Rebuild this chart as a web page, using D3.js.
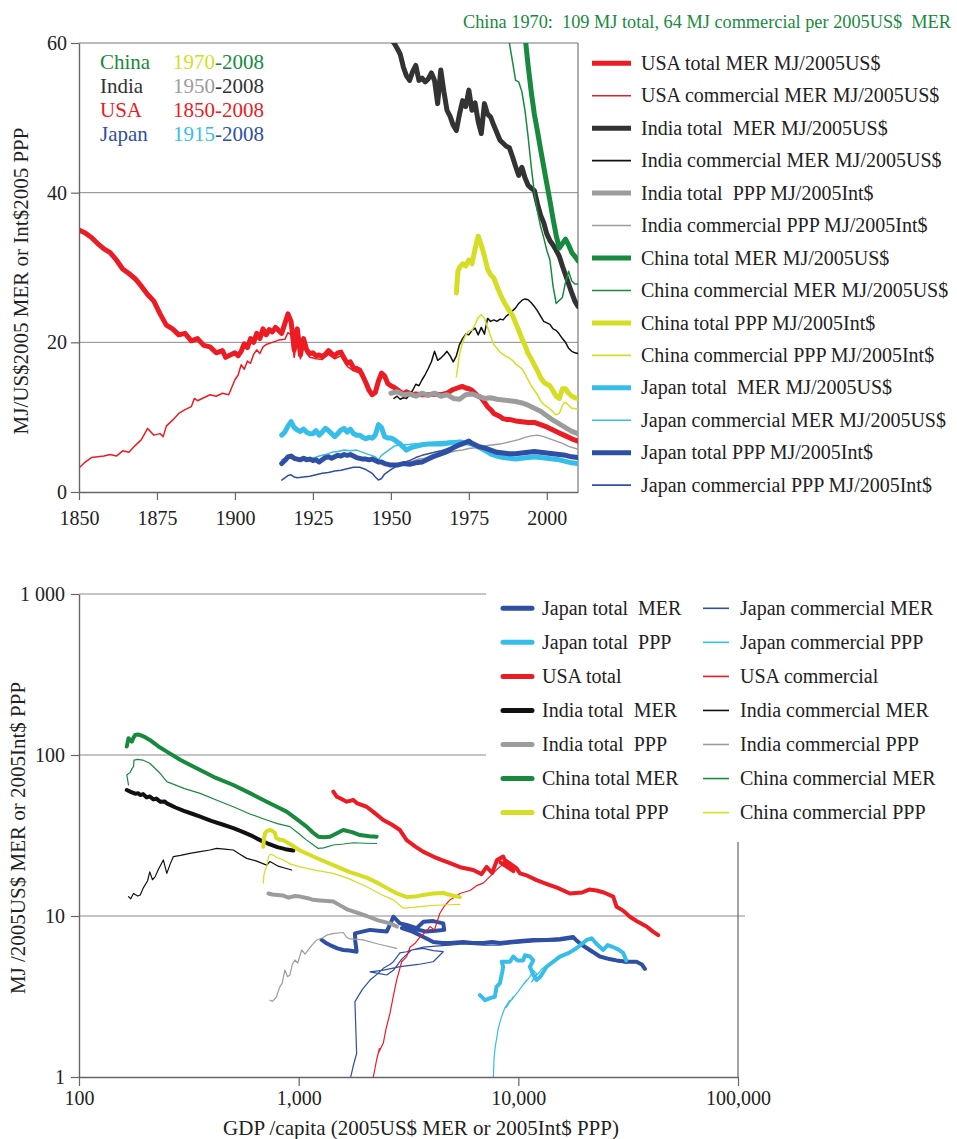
<!DOCTYPE html>
<html><head><meta charset="utf-8">
<script src="https://d3js.org/d3.v7.min.js"></script>
<style>
html,body{margin:0;padding:0;background:#fff;}
svg{display:block;}
svg text{font-family:"Liberation Serif","Times New Roman",serif !important;}
</style></head><body>
<svg id="chart" width="957" height="1139"></svg>
<script>
// ================= DATA : top panel  [year, MJ per $] =================
const usaTotal = [[1850,35.0],[1852,34.6],[1854,34.0],[1856,33.2],[1858,32.5],[1860,32.0],[1862,31.0],[1864,29.8],[1866,29.2],[1868,28.5],[1870,27.5],[1872,26.4],[1874,25.5],[1876,23.8],[1878,22.3],[1880,21.8],[1882,21.0],[1884,21.2],[1886,20.2],[1888,20.5],[1890,19.6],[1892,19.4],[1894,18.6],[1896,18.9],[1897,18.0],[1899,18.4],[1900,18.6],[1901,18.2],[1902,18.8],[1903,19.8],[1904,19.3],[1905,20.5],[1906,20.0],[1907,21.2],[1908,20.5],[1909,21.8],[1910,21.0],[1911,21.7],[1912,21.4],[1913,22.0],[1914,21.6],[1915,21.2],[1916,22.5],[1917,23.8],[1918,22.8],[1919,19.0],[1920,21.8],[1921,18.3],[1922,20.5],[1923,19.0],[1924,18.5],[1925,18.6],[1926,18.2],[1927,18.3],[1928,18.1],[1929,18.4],[1930,18.9],[1931,18.5],[1932,18.2],[1933,18.6],[1934,18.7],[1935,17.9],[1936,17.2],[1937,17.4],[1938,16.6],[1939,16.5],[1940,16.3],[1941,15.5],[1942,14.6],[1943,13.6],[1944,13.0],[1945,13.3],[1946,14.8],[1947,15.9],[1948,15.5],[1949,14.5],[1950,14.2],[1951,14.0],[1952,13.7],[1953,13.4],[1954,13.1],[1955,13.4],[1956,13.2],[1957,13.0],[1958,13.1],[1960,13.0],[1962,13.0],[1964,13.1],[1966,13.0],[1968,13.2],[1970,13.7],[1972,14.0],[1973,14.1],[1974,13.9],[1975,13.8],[1976,13.6],[1977,13.2],[1978,12.8],[1979,12.6],[1980,12.0],[1981,11.4],[1982,11.0],[1983,10.5],[1984,10.3],[1985,10.1],[1986,9.8],[1987,9.7],[1988,9.7],[1990,9.5],[1992,9.4],[1994,9.3],[1996,9.3],[1998,9.0],[2000,8.7],[2002,8.3],[2004,7.9],[2006,7.5],[2008,7.1],[2010,6.8]];
const usaComm = [[1850,3.2],[1852,4.0],[1854,4.6],[1856,4.7],[1858,4.8],[1860,5.0],[1862,4.8],[1864,5.5],[1866,5.3],[1868,6.2],[1870,7.0],[1872,8.5],[1874,7.6],[1876,7.8],[1877,7.4],[1878,8.8],[1880,9.6],[1882,10.5],[1884,11.0],[1886,11.4],[1887,12.5],[1888,12.2],[1890,12.6],[1892,13.0],[1894,12.8],[1896,13.2],[1898,13.0],[1899,14.0],[1900,15.0],[1901,15.6],[1902,17.0],[1903,16.4],[1904,17.5],[1905,17.2],[1906,18.4],[1907,19.0],[1908,18.5],[1909,19.4],[1910,19.7],[1912,20.0],[1914,20.3],[1916,20.4],[1917,21.3],[1918,21.0],[1919,18.0],[1920,20.8],[1921,17.8],[1922,19.8],[1923,18.5],[1924,18.0],[1926,17.8],[1928,17.7],[1930,18.4],[1932,17.8],[1934,18.2],[1936,16.8],[1938,16.2],[1940,15.9],[1942,14.3],[1944,12.8],[1946,14.5],[1947,15.6],[1948,15.2],[1950,14.0],[1952,13.6],[1955,13.3],[1958,13.0],[1960,12.9],[1965,12.9],[1970,13.6],[1973,14.0],[1975,13.7],[1978,12.7],[1980,11.9],[1983,10.4],[1986,9.7],[1990,9.4],[1995,9.2],[2000,8.6],[2005,7.6],[2010,6.7]];
const indiaTotalMER = [[1950,60.5],[1951,60.0],[1952,59.3],[1953,58.5],[1954,56.8],[1955,55.6],[1956,55.0],[1957,56.2],[1958,57.0],[1959,55.0],[1960,55.3],[1961,54.8],[1962,55.2],[1963,56.0],[1964,55.0],[1965,51.9],[1966,56.4],[1967,53.5],[1968,51.0],[1969,50.2],[1970,49.0],[1971,48.3],[1972,50.5],[1973,52.3],[1974,51.5],[1975,53.7],[1976,51.0],[1977,52.0],[1978,49.5],[1979,47.9],[1980,51.9],[1981,50.5],[1982,50.1],[1983,49.0],[1984,48.0],[1985,47.0],[1986,46.6],[1987,46.2],[1988,46.0],[1989,44.8],[1990,43.5],[1991,42.3],[1992,43.4],[1993,42.0],[1994,41.0],[1995,40.6],[1996,40.3],[1997,38.5],[1998,37.0],[1999,36.0],[2000,34.5],[2001,33.6],[2002,33.0],[2003,32.3],[2004,31.5],[2005,30.2],[2006,29.0],[2007,27.8],[2008,26.6],[2009,25.5],[2010,24.8]];
const indiaCommMER = [[1951,12.5],[1952,12.8],[1953,12.4],[1954,12.6],[1955,12.5],[1956,13.0],[1957,13.6],[1958,14.4],[1959,14.2],[1960,15.0],[1961,15.7],[1962,16.5],[1963,17.4],[1964,18.8],[1965,17.6],[1966,17.9],[1967,18.3],[1968,18.8],[1969,18.2],[1970,17.4],[1971,18.2],[1972,19.7],[1973,20.5],[1974,21.1],[1975,21.0],[1976,21.6],[1977,21.9],[1978,21.0],[1979,22.0],[1980,21.1],[1981,23.2],[1982,22.8],[1983,23.0],[1984,22.8],[1985,23.1],[1986,23.0],[1987,23.5],[1988,23.8],[1989,24.2],[1990,24.6],[1991,25.2],[1992,25.6],[1993,25.8],[1994,25.7],[1995,25.3],[1996,24.8],[1997,24.2],[1998,23.5],[1999,22.8],[2000,22.6],[2001,22.4],[2002,21.8],[2003,21.6],[2004,21.1],[2005,20.5],[2006,20.0],[2007,19.2],[2008,18.8],[2009,18.6],[2010,18.5]];
const indiaTotalPPP = [[1950,13.2],[1952,13.4],[1954,13.0],[1956,13.1],[1958,12.8],[1960,13.2],[1962,12.9],[1964,13.2],[1966,12.8],[1968,13.0],[1970,12.5],[1972,12.4],[1974,13.0],[1976,13.1],[1978,12.8],[1980,12.5],[1982,12.6],[1984,12.4],[1986,12.3],[1988,12.2],[1990,12.1],[1992,11.9],[1994,11.6],[1996,11.2],[1998,10.8],[2000,10.2],[2002,9.6],[2004,9.1],[2006,8.6],[2008,8.1],[2010,7.8]];
const indiaCommPPP = [[1951,3.6],[1953,3.8],[1955,3.9],[1957,4.1],[1959,4.4],[1961,4.5],[1963,4.9],[1965,5.0],[1967,5.2],[1969,5.3],[1971,5.5],[1973,5.6],[1975,5.8],[1977,5.9],[1979,6.0],[1981,6.2],[1983,6.3],[1985,6.4],[1987,6.6],[1989,6.8],[1991,7.0],[1993,7.3],[1995,7.5],[1997,7.6],[1999,7.4],[2001,7.1],[2003,6.8],[2005,6.5],[2007,6.1],[2010,5.7]];
const chinaTotalMER = [[1970,109],[1972,118],[1974,125],[1976,128],[1978,120],[1980,110],[1982,100],[1984,92],[1986,84],[1988,77],[1990,70],[1992,64],[1993,61.0],[1994,57.0],[1995,53.5],[1996,50.5],[1997,48.2],[1998,45.8],[1999,43.5],[2000,41.2],[2001,38.9],[2002,36.5],[2003,34.3],[2004,32.6],[2005,33.2],[2006,33.8],[2007,33.0],[2008,32.0],[2009,31.5],[2010,30.9]];
const chinaCommMER = [[1970,64],[1972,70],[1974,80],[1976,88],[1978,92],[1980,85],[1982,76],[1984,70],[1986,65],[1987,62.5],[1988,60.0],[1989,57.5],[1990,55.0],[1991,54.8],[1992,53.5],[1993,51.0],[1994,47.5],[1995,43.5],[1996,40.0],[1997,37.5],[1998,35.5],[1999,34.0],[2000,32.3],[2001,31.0],[2002,27.5],[2003,25.2],[2004,25.6],[2005,26.0],[2006,28.0],[2007,29.5],[2008,28.2],[2009,27.8],[2010,27.8]];
const chinaTotalPPP = [[1971,26.6],[1971.5,29.5],[1972,30.0],[1973,30.5],[1974,30.2],[1975,31.0],[1976,30.5],[1977,32.5],[1978,34.2],[1979,33.0],[1980,31.5],[1981,29.8],[1982,29.0],[1983,28.6],[1984,27.5],[1985,26.5],[1986,25.6],[1987,24.9],[1988,24.2],[1989,23.6],[1990,22.6],[1991,21.6],[1992,20.5],[1993,19.6],[1994,18.5],[1995,17.8],[1996,17.0],[1997,16.2],[1998,15.3],[1999,14.7],[2000,14.4],[2001,14.2],[2002,13.5],[2003,12.8],[2004,12.5],[2005,13.8],[2006,13.8],[2007,13.2],[2008,12.8],[2009,12.6],[2010,12.5]];
const chinaCommPPP = [[1971,15.4],[1972,18.4],[1973,20.0],[1974,21.0],[1975,21.5],[1976,21.6],[1977,22.4],[1978,23.3],[1979,23.7],[1980,23.2],[1981,22.0],[1982,20.8],[1983,19.7],[1984,19.2],[1985,18.7],[1986,18.4],[1987,18.1],[1988,17.9],[1989,17.6],[1990,17.1],[1991,16.8],[1992,16.5],[1993,15.8],[1994,15.0],[1995,14.2],[1996,13.6],[1997,13.0],[1998,12.2],[1999,11.7],[2000,11.4],[2001,11.1],[2002,10.7],[2003,10.3],[2004,10.5],[2005,11.6],[2006,12.0],[2007,11.6],[2008,11.2],[2010,11.1]];
const japanTotalMER = [[1915,7.6],[1916,8.0],[1917,8.8],[1918,9.4],[1919,8.6],[1920,8.3],[1921,8.1],[1922,8.4],[1923,8.0],[1924,7.8],[1925,7.8],[1926,8.2],[1927,7.6],[1928,8.0],[1929,8.5],[1930,8.2],[1931,7.8],[1932,7.4],[1933,7.8],[1934,8.3],[1935,8.5],[1936,8.0],[1937,8.4],[1938,7.8],[1939,7.6],[1940,7.6],[1941,7.3],[1942,7.1],[1943,7.3],[1944,7.2],[1945,7.6],[1946,9.0],[1947,8.6],[1948,7.4],[1949,7.2],[1950,7.2],[1951,7.0],[1952,6.7],[1953,6.4],[1954,6.0],[1955,5.6],[1956,5.8],[1957,6.0],[1958,6.1],[1960,6.3],[1962,6.4],[1964,6.4],[1966,6.4],[1968,6.5],[1970,6.6],[1972,6.7],[1974,6.6],[1976,6.4],[1978,6.0],[1980,5.6],[1982,5.1],[1984,4.8],[1986,4.6],[1988,4.5],[1990,4.4],[1992,4.5],[1994,4.6],[1996,4.7],[1998,4.6],[2000,4.5],[2002,4.4],[2004,4.3],[2006,4.1],[2008,3.9],[2010,3.8]];
const japanCommMER = [[1915,4.3],[1917,4.6],[1919,4.5],[1921,4.4],[1923,4.6],[1925,4.5],[1927,4.8],[1929,5.0],[1931,5.3],[1933,5.4],[1935,5.6],[1937,5.5],[1939,5.6],[1941,5.3],[1943,5.0],[1945,4.7],[1946,4.3],[1947,4.9],[1949,5.5],[1951,6.1],[1953,6.3],[1955,6.3],[1957,6.4],[1960,6.5],[1963,6.6],[1966,6.7],[1969,6.8],[1972,6.8],[1974,6.6],[1976,6.3],[1978,5.9],[1980,5.4],[1982,5.0],[1984,4.7],[1986,4.5],[1988,4.4],[1990,4.3],[1993,4.4],[1996,4.5],[1999,4.4],[2002,4.3],[2005,4.1],[2008,3.8],[2010,3.7]];
const japanTotalPPP = [[1915,3.8],[1916,4.2],[1917,4.7],[1918,4.8],[1919,4.5],[1920,4.4],[1921,4.3],[1922,4.5],[1923,4.3],[1924,4.4],[1925,4.2],[1926,4.3],[1927,4.0],[1928,4.3],[1929,4.6],[1930,4.7],[1931,4.5],[1932,4.7],[1933,4.9],[1934,4.8],[1935,5.0],[1936,4.9],[1937,5.0],[1938,4.8],[1939,4.6],[1940,4.5],[1941,4.4],[1942,4.4],[1943,4.3],[1944,4.4],[1945,4.2],[1946,4.0],[1947,4.0],[1948,3.8],[1949,3.7],[1950,3.6],[1952,3.6],[1954,3.8],[1956,3.7],[1958,3.9],[1960,4.0],[1962,4.4],[1964,4.8],[1966,5.1],[1968,5.4],[1970,5.9],[1972,6.3],[1974,6.6],[1975,6.8],[1976,6.5],[1978,6.1],[1980,5.9],[1982,5.6],[1984,5.3],[1986,5.2],[1988,5.1],[1990,5.1],[1992,5.2],[1994,5.3],[1996,5.4],[1998,5.3],[2000,5.2],[2002,5.1],[2004,5.0],[2006,4.9],[2008,4.7],[2010,4.6]];
const japanCommPPP = [[1915,1.6],[1916,1.9],[1917,2.2],[1918,2.3],[1919,2.0],[1920,1.9],[1922,2.0],[1924,2.1],[1926,2.3],[1928,2.5],[1930,2.6],[1932,2.8],[1934,2.9],[1936,3.1],[1938,3.3],[1940,3.3],[1942,3.0],[1944,2.5],[1945,2.0],[1946,1.6],[1947,1.8],[1948,2.4],[1950,3.0],[1952,3.5],[1954,3.9],[1956,4.2],[1958,4.6],[1960,4.9],[1962,5.1],[1964,5.3],[1966,5.5],[1968,5.8],[1970,6.1],[1972,6.3],[1974,6.5],[1975,6.7],[1976,6.4],[1978,6.0],[1980,5.8],[1982,5.5],[1984,5.2],[1986,5.1],[1988,5.0],[1990,5.0],[1992,5.1],[1994,5.2],[1996,5.3],[1998,5.2],[2000,5.1],[2002,5.0],[2004,4.9],[2006,4.8],[2008,4.6],[2010,4.5]];

const topYearTicks = [1850, 1875, 1900, 1925, 1950, 1975, 2000];
const topValueTicks = [0, 20, 40, 60];
const topLegendLabels = ["USA total MER MJ/2005US$","USA commercial MER MJ/2005US$","India total  MER MJ/2005US$","India commercial MER MJ/2005US$","India total  PPP MJ/2005Int$","India commercial PPP MJ/2005Int$","China total MER MJ/2005US$","China commercial MER MJ/2005US$","China total PPP MJ/2005Int$","China commercial PPP MJ/2005Int$","Japan total  MER MJ/2005US$","Japan commercial MER MJ/2005US$","Japan total PPP MJ/2005Int$","Japan commercial PPP MJ/2005Int$"];

// ================= DATA : bottom panel  [GDP per capita, MJ per $] =================
const japanTotalMERb = [[1273,7.1],[1330,6.8],[1388,6.6],[1500,6.3],[1595,6.15],[1700,6.1],[1836,6.0],[1810,7.0],[1804,7.8],[1950,8.0],[2113,8.2],[2300,8.1],[2517,8.0],[2600,8.8],[2698,9.9],[2891,9.0],[3100,8.8],[3443,8.4],[3700,9.2],[4100,9.3],[4550,9.0],[4600,8.2],[4200,8.1],[3800,8.0],[3400,8.3],[3100,8.6],[2950,8.4],[3300,8.0],[3700,7.4],[4100,6.9],[4500,6.8],[4885,6.8],[5614,6.9],[6200,6.8],[6920,6.8],[7600,6.9],[8241,6.8],[9157,6.9],[10200,7.0],[11700,7.1],[13500,7.1],[15500,7.2],[17780,7.4],[18300,7.1],[19500,6.6],[21180,6.15],[23500,5.6],[26000,5.4],[28000,5.3],[31100,5.2],[34500,5.2],[36500,5.0],[37700,4.7]];
const japanCommMERb = [[1710,0.95],[1780,1.2],[1836,1.4],[1820,2.0],[1804,2.94],[1950,3.5],[2113,4.0],[2300,4.4],[2427,4.73],[2600,5.0],[2698,5.2],[2891,5.9],[3100,6.0],[3266,6.15],[3690,6.3],[4100,6.1],[4550,6.0],[4100,5.2],[3500,5.0],[2900,4.85],[2400,4.6],[2113,4.5],[2300,4.4],[2517,4.3],[2700,4.6],[2944,5.4],[3266,6.15],[3700,6.4],[4200,6.5],[4885,6.6],[5614,6.7],[6920,6.6],[8241,6.6],[9157,6.7],[11700,6.9],[15500,7.0],[17780,7.2],[18500,6.9],[21180,6.0],[24000,5.5],[28000,5.2],[31100,5.1]];
const japanTotalPPPb = [[6690,3.23],[7050,3.0],[7500,3.1],[7820,3.15],[7960,3.64],[8240,3.82],[8450,4.5],[8530,4.84],[8400,5.2],[9160,5.2],[9480,5.6],[9900,5.3],[10520,5.3],[10720,5.7],[11300,5.6],[11690,5.3],[11290,4.84],[11700,4.3],[12110,4.0],[12600,4.2],[13450,4.84],[15460,5.6],[17000,5.9],[18400,6.3],[20460,7.1],[21570,7.27],[22500,6.8],[24340,6.15],[25500,6.6],[27040,6.4],[28500,6.2],[30000,5.9],[31000,5.3]];
const japanCommPPPb = [[7600,0.9],[7700,1.0],[7750,1.3],[7850,1.54],[8100,2.0],[8390,2.37],[8700,2.7],[9160,3.0],[8800,2.7],[9480,3.15],[9300,3.0],[10000,3.4],[10890,4.0],[10300,3.6],[11300,4.2],[11690,4.6],[12100,4.4],[11500,3.9],[12800,4.7],[13450,4.9],[15460,5.6],[17000,5.9],[18400,6.3],[20460,7.0],[21570,7.2],[22500,6.7],[24340,6.1],[25500,6.5],[27040,6.3],[28500,6.1],[30000,5.8],[31000,5.2]];
const usaTotalb = [[1438,59.2],[1490,55.1],[1560,53.5],[1653,51.3],[1774,52.5],[1850,50.0],[2039,47.7],[2200,44.0],[2427,39.5],[2650,37.0],[2891,34.2],[3101,29.6],[3400,27.0],[3700,25.0],[4100,23.4],[4400,22.5],[4885,21.3],[5500,20.0],[6230,19.3],[6800,18.2],[7170,20.2],[7600,18.5],[8000,22.3],[8530,23.4],[9000,20.0],[8300,21.5],[9500,19.0],[8800,22.0],[9800,19.8],[10170,18.4],[11000,17.8],[12110,16.7],[13500,15.8],[15000,15.0],[17170,13.8],[19500,14.0],[21000,14.6],[22700,14.4],[24500,14.0],[27040,13.2],[28000,11.4],[30000,10.8],[32200,9.9],[35000,9.2],[38370,8.6],[41000,8.0],[43350,7.6]];
const usaCommb = [[2150,0.9],[2187,1.0],[2264,1.28],[2330,1.5],[2300,1.4],[2427,1.62],[2500,2.0],[2605,2.49],[2700,3.2],[2793,4.0],[2944,5.2],[3100,5.6],[3212,6.4],[3400,6.8],[3565,7.4],[3800,8.0],[3961,8.6],[4150,8.2],[4395,10.4],[4600,11.5],[4885,12.6],[5200,13.2],[5420,13.8],[6025,14.4],[6500,15.5],[6920,16.0],[7400,17.5],[8000,19.5],[8530,21.0]];
const indiaTotalMERb = [[165,60.6],[172,59.0],[180,57.5],[186,57.8],[190,56.4],[196,57.2],[203,54.5],[210,55.2],[218,53.0],[225,53.6],[235,51.2],[245,51.5],[251,50.1],[275,47.2],[300,45.0],[330,43.0],[356,41.4],[400,39.0],[450,37.0],[504,35.1],[560,33.2],[620,31.2],[667,29.6],[720,28.3],[800,26.8],[870,26.0],[945,25.5]];
const indiaCommMERb = [[168,13.2],[172,12.8],[177,13.8],[185,13.3],[190,13.5],[196,14.9],[205,16.5],[210,18.8],[216,16.8],[222,17.5],[230,19.5],[242,22.3],[251,18.4],[260,21.0],[269,23.4],[290,23.8],[320,24.5],[350,25.0],[395,25.7],[423,26.3],[460,26.0],[504,25.7],[540,24.2],[580,22.8],[640,22.0],[715,20.7],[740,21.8],[800,20.5],[870,19.8],[929,19.3]];
const indiaTotalPPPb = [[728,13.8],[760,13.6],[800,13.5],[850,13.4],[900,13.0],[960,13.3],[1014,13.2],[1100,12.9],[1162,12.6],[1250,12.5],[1350,12.4],[1438,12.3],[1550,11.6],[1660,11.0],[1800,10.6],[2039,10.0],[2300,9.4],[2605,9.0],[2801,8.6]];
const indiaCommPPPb = [[740,3.0],[760,2.95],[794,3.15],[800,3.3],[822,3.64],[840,3.8],[866,4.62],[890,4.2],[912,4.3],[935,5.0],[962,5.33],[990,5.1],[1032,6.15],[1070,5.8],[1106,6.15],[1150,6.6],[1208,7.1],[1280,7.3],[1341,7.6],[1450,7.8],[1595,7.9],[1650,7.4],[1710,7.2],[1850,7.15],[1966,7.1],[2300,6.7],[2792,6.3]];
const chinaTotalMERb = [[165,113],[168,127],[171,124],[174,121],[177,128],[180,133],[185,134],[190,133],[200,129],[210,124],[230,113],[251,105],[290,93],[356,80.7],[420,72],[504,65.1],[600,58],[715,51.3],[800,47.5],[881,44.5],[980,40],[1087,35.9],[1160,33],[1228,31.1],[1300,30.8],[1388,31.1],[1500,32.8],[1595,34.2],[1750,33.2],[1901,31.8],[2100,31.3],[2264,31.1]];
const chinaCommMERb = [[168,65.1],[166,72],[165,75.2],[171,78],[174,82],[177,84.6],[178,93],[185,94],[195,93],[210,88.8],[234,77],[251,68.3],[300,62],[356,57.8],[430,52],[504,47.7],[600,43],[715,39.5],[800,37.5],[912,35.9],[1000,32.5],[1087,29.6],[1160,27.8],[1228,26.3],[1300,26.5],[1438,27.6],[1600,28.0],[1774,28.5],[2000,28.3],[2264,28.2]];
const chinaTotalPPPb = [[690,26.9],[695,30.0],[703,32.7],[720,33.8],[740,34.2],[760,33.8],[780,32.7],[790,30.5],[820,29.8],[851,29.6],[920,27.8],[1014,25.5],[1200,23.0],[1438,20.7],[1700,18.8],[2039,17.3],[2300,16.0],[2523,14.9],[2800,13.8],[3111,13.1],[3400,13.2],[3681,13.5],[4100,13.8],[4539,13.9],[5000,13.4],[5420,13.1]];
const chinaCommPPPb = [[690,16.0],[695,18.0],[703,19.3],[715,20.2],[729,23.4],[745,24.2],[766,23.9],[800,23.0],[851,22.3],[920,21.0],[1014,20.2],[1200,19.2],[1438,18.4],[1700,17.0],[2039,15.2],[2400,13.5],[2698,12.6],[2985,11.2],[3300,11.3],[3961,11.6],[4500,11.7],[5420,11.8]];

const gdpTicks = [100, 1000, 10000, 100000];
const gdpTickLabels = ["100", "1,000", "10,000", "100,000"];
const mjTicks = [1, 10, 100, 1000];
const mjTickLabels = ["1", "10", "100", "1 000"];
const bottomLegendLeft = ["Japan total  MER","Japan total  PPP","USA total","India total  MER","India total  PPP","China total MER","China total PPP"];
const bottomLegendRight = ["Japan commercial MER","Japan commercial PPP","USA commercial","India commercial MER","India commercial PPP","China commercial MER","China commercial PPP"];

// ================= STYLE =================
const C = {
  red: "#ec1c24", dgray: "#333333", black: "#111111", gray: "#9c9c9c",
  green: "#178a3e", yellow: "#d5de23", lblue: "#37bdea", dblue: "#2f4fa5"
};
const THICK = 5, THIN = 1.5;

const svg = d3.select("#chart");
const FONT = 20;

// ================= TOP PANEL =================
const xTop = d3.scaleLinear().domain([1850, 2010]).range([79, 578]);
const yTop = d3.scaleLinear().domain([0, 60]).range([492, 43]);

svg.append("defs").append("clipPath").attr("id", "clipTop")
  .append("rect").attr("x", xTop(1850)).attr("y", yTop(60))
  .attr("width", xTop(2010) - xTop(1850)).attr("height", yTop(0) - yTop(60));
svg.select("defs").append("clipPath").attr("id", "clipBot")
  .append("rect").attr("x", 79).attr("y", 594).attr("width", 659).attr("height", 483);

const gTop = svg.append("g");
gTop.selectAll("line.grid").data([20, 40]).join("line")
  .attr("x1", xTop(1850)).attr("x2", xTop(2010))
  .attr("y1", d => yTop(d)).attr("y2", d => yTop(d))
  .attr("stroke", "#8a8a8a").attr("stroke-width", 1);
gTop.append("line").attr("x1", xTop(1850)).attr("x2", xTop(2010)).attr("y1", yTop(60)).attr("y2", yTop(60)).attr("stroke", "#777").attr("stroke-width", 1.2);
gTop.append("line").attr("x1", xTop(2010)).attr("x2", xTop(2010)).attr("y1", yTop(60)).attr("y2", yTop(0)).attr("stroke", "#777").attr("stroke-width", 1.2);

const topSeries = [
  {d: usaTotal, c: C.red, w: THICK},
  {d: usaComm, c: C.red, w: THIN},
  {d: indiaTotalMER, c: C.dgray, w: THICK},
  {d: indiaCommMER, c: C.black, w: THIN},
  {d: indiaTotalPPP, c: C.gray, w: THICK},
  {d: indiaCommPPP, c: C.gray, w: THIN},
  {d: chinaTotalMER, c: C.green, w: THICK},
  {d: chinaCommMER, c: C.green, w: THIN},
  {d: chinaTotalPPP, c: C.yellow, w: THICK},
  {d: chinaCommPPP, c: C.yellow, w: THIN},
  {d: japanTotalMER, c: C.lblue, w: THICK},
  {d: japanCommMER, c: C.lblue, w: THIN},
  {d: japanTotalPPP, c: C.dblue, w: THICK},
  {d: japanCommPPP, c: C.dblue, w: THIN}
];
const lineTop = d3.line().x(d => xTop(d[0])).y(d => yTop(d[1]));
gTop.append("g").attr("clip-path", "url(#clipTop)")
  .selectAll("path").data(topSeries).join("path")
  .attr("d", s => lineTop(s.d)).attr("fill", "none")
  .attr("stroke", s => s.c).attr("stroke-width", s => s.w)
  .attr("stroke-linejoin", "round").attr("stroke-linecap", "round");

const axTopX = gTop.append("g").attr("transform", `translate(0,${yTop(0)})`)
  .call(d3.axisBottom(xTop).tickValues(topYearTicks).tickFormat(d3.format("d")).tickSize(8).tickPadding(11).tickSizeOuter(0));
const axTopY = gTop.append("g").attr("transform", `translate(${xTop(1850)},0)`)
  .call(d3.axisLeft(yTop).tickValues(topValueTicks).tickSize(8).tickPadding(4).tickSizeOuter(0));
[axTopX, axTopY].forEach(a => {
  a.select(".domain").attr("stroke", "#666").attr("stroke-width", 1.4);
  a.selectAll(".tick line").attr("stroke", "#666").attr("stroke-width", 1.2);
  a.selectAll("text").attr("font-size", FONT).attr("fill", "#222");
});

svg.append("text").attr("transform", `translate(21,281) rotate(-90)`)
  .attr("text-anchor", "middle").attr("dominant-baseline", "central")
  .attr("font-size", 21).attr("fill", "#222").text("MJ/US$2005 MER or Int$2005 PPP");

svg.append("text").attr("x", 463).attr("y", 28).attr("font-size", 18.3).attr("fill", C.green)
  .style("white-space", "pre")
  .text("China 1970:  109 MJ total, 64 MJ commercial per 2005US$  MER");

const inset = [
  {n: "China", nc: C.green, a: "1970", ac: C.yellow, b: "-2008", bc: C.green},
  {n: "India", nc: C.dgray, a: "1950", ac: C.gray, b: "-2008", bc: C.dgray},
  {n: "USA", nc: C.red, a: "1850", ac: C.red, b: "-2008", bc: C.red},
  {n: "Japan", nc: C.dblue, a: "1915", ac: C.lblue, b: "-2008", bc: C.dblue}
];
inset.forEach((r, i) => {
  const y = 68.5 + i * 24;
  svg.append("text").attr("x", 100).attr("y", y).attr("font-size", 21).attr("fill", r.nc).text(r.n);
  const t = svg.append("text").attr("x", 173).attr("y", y).attr("font-size", 21);
  t.append("tspan").attr("fill", r.ac).text(r.a);
  t.append("tspan").attr("fill", r.bc).text(r.b);
});

const gLegTop = svg.append("g");
topSeries.forEach((s, i) => {
  const y = 63.3 + i * 32.45;
  gLegTop.append("line").attr("x1", 592).attr("x2", 631).attr("y1", y).attr("y2", y)
    .attr("stroke", s.c).attr("stroke-width", s.w === THICK ? 5 : 1.6);
  gLegTop.append("text").attr("x", 641).attr("y", y + 6.6).attr("font-size", FONT)
    .attr("fill", "#222").style("white-space", "pre").text(topLegendLabels[i]);
});

// ================= BOTTOM PANEL =================
const xBot = d3.scaleLog().domain([100, 100000]).range([79, 738]);
const yBot = d3.scaleLog().domain([1, 1000]).range([1077, 594]);

const gBot = svg.append("g");
gBot.selectAll("line.grid").data(mjTicks.slice(1)).join("line")
  .attr("x1", xBot(100)).attr("x2", d => d === 10 ? 745 : 486)
  .attr("y1", d => yBot(d)).attr("y2", d => yBot(d))
  .attr("stroke", "#8a8a8a").attr("stroke-width", 1);
gBot.append("line").attr("x1", xBot(100000)).attr("x2", xBot(100000)).attr("y1", 842).attr("y2", yBot(1))
  .attr("stroke", "#666").attr("stroke-width", 1.2);

const botSeries = [
  {d: japanTotalMERb, c: C.dblue, w: 4},
  {d: japanCommMERb, c: C.dblue, w: 1.2},
  {d: japanTotalPPPb, c: C.lblue, w: 4},
  {d: japanCommPPPb, c: C.lblue, w: 1.2},
  {d: usaTotalb, c: C.red, w: 4},
  {d: usaCommb, c: C.red, w: 1.2},
  {d: indiaTotalMERb, c: C.black, w: 4},
  {d: indiaCommMERb, c: C.black, w: 1.2},
  {d: indiaTotalPPPb, c: C.gray, w: 4},
  {d: indiaCommPPPb, c: C.gray, w: 1.2},
  {d: chinaTotalMERb, c: C.green, w: 4},
  {d: chinaCommMERb, c: C.green, w: 1.2},
  {d: chinaTotalPPPb, c: C.yellow, w: 4},
  {d: chinaCommPPPb, c: C.yellow, w: 1.2}
];
const lineBot = d3.line().x(d => xBot(d[0])).y(d => yBot(d[1]));
gBot.append("g").attr("clip-path", "url(#clipBot)")
  .selectAll("path").data(botSeries).join("path")
  .attr("d", s => lineBot(s.d)).attr("fill", "none")
  .attr("stroke", s => s.c).attr("stroke-width", s => s.w)
  .attr("stroke-linejoin", "round").attr("stroke-linecap", "round");

const axBotX = gBot.append("g").attr("transform", `translate(0,${yBot(1)})`)
  .call(d3.axisBottom(xBot).tickValues(gdpTicks).tickFormat((d, i) => gdpTickLabels[i]).tickSize(9).tickPadding(5).tickSizeOuter(0));
const axBotY = gBot.append("g").attr("transform", `translate(${xBot(100)},0)`)
  .call(d3.axisLeft(yBot).tickValues(mjTicks).tickFormat((d, i) => mjTickLabels[i]).tickSize(8).tickPadding(6).tickSizeOuter(0));
[axBotX, axBotY].forEach(a => {
  a.select(".domain").attr("stroke", "#666").attr("stroke-width", 1.4);
  a.selectAll(".tick line").attr("stroke", "#666").attr("stroke-width", 1.2);
  a.selectAll("text").attr("font-size", FONT).attr("fill", "#222").style("white-space", "pre");
});

svg.append("text").attr("transform", `translate(18,838) rotate(-90)`)
  .attr("text-anchor", "middle").attr("dominant-baseline", "central")
  .attr("font-size", 21).attr("fill", "#222").style("white-space", "pre").text("MJ /2005US$ MER or 2005Int$ PPP");
svg.append("text").attr("x", 421).attr("y", 1135).attr("text-anchor", "middle")
  .attr("font-size", 21).attr("fill", "#222").style("white-space", "pre").text("GDP /capita (2005US$ MER or 2005Int$ PPP)");

const gLegBot = svg.append("g");
bottomLegendLeft.forEach((lab, i) => {
  const y = 608.3 + i * 34.05;
  const sT = botSeries[i * 2], sC = botSeries[i * 2 + 1];
  gLegBot.append("line").attr("x1", 503).attr("x2", 532).attr("y1", y).attr("y2", y)
    .attr("stroke", sT.c).attr("stroke-width", 5).attr("stroke-linecap", "round");
  gLegBot.append("text").attr("x", 542).attr("y", y + 6.6).attr("font-size", FONT)
    .attr("fill", "#222").style("white-space", "pre").text(lab);
  gLegBot.append("line").attr("x1", 703).attr("x2", 729).attr("y1", y).attr("y2", y)
    .attr("stroke", sC.c).attr("stroke-width", 1.6);
  gLegBot.append("text").attr("x", 740).attr("y", y + 6.6).attr("font-size", FONT)
    .attr("fill", "#222").style("white-space", "pre").text(bottomLegendRight[i]);
});
</script>
</body></html>
